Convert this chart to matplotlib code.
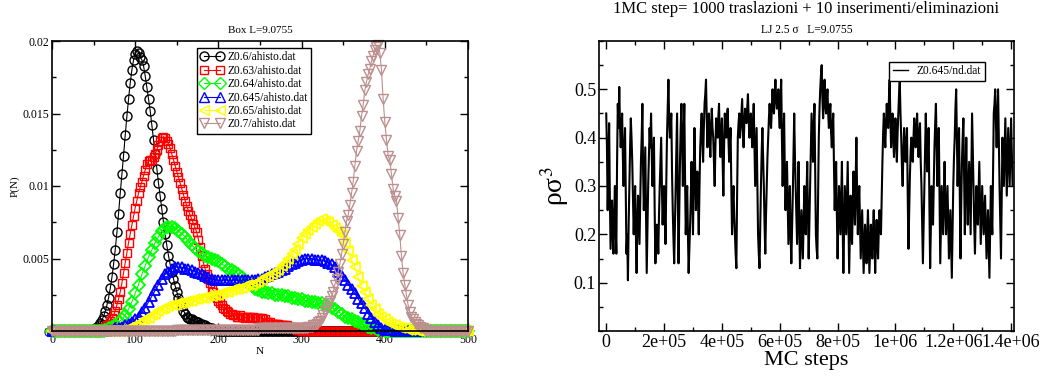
import numpy as np
import matplotlib
matplotlib.use('Agg')
import matplotlib.pyplot as plt
from matplotlib.ticker import MultipleLocator

plt.rcParams['font.family'] = ['Liberation Serif', 'DejaVu Serif']
plt.rcParams['mathtext.fontset'] = 'stix'

# ---------------- left panel: P(N) histograms ----------------
# each curve: first N, spacing in N, values; P = 0 elsewhere on the 0..500 grid
N_GRID = np.arange(0, 501, 2)

black_start, black_step = 50, 2
p_black = [0.00013, 0.0002, 0.00028, 0.0004, 0.00055, 0.00075, 0.00102, 0.00136, 0.00179, 0.0023,
           0.00294, 0.00369, 0.0046, 0.0056, 0.0068, 0.0081, 0.0095, 0.0108, 0.0121, 0.0135,
           0.0148, 0.0160, 0.0171, 0.0180, 0.0187, 0.0191, 0.0193, 0.0192, 0.0189, 0.0187,
           0.0183, 0.0176, 0.0168, 0.0160, 0.0152, 0.0142, 0.0132, 0.0122, 0.0112, 0.0102,
           0.0093, 0.0084, 0.0075, 0.0067, 0.0059, 0.0052, 0.0046, 0.0041, 0.0036, 0.0031,
           0.0027, 0.0023, 0.0020, 0.0017, 0.0014, 0.0012, 0.0010, 0.0009, 0.0008, 0.0008,
           0.0007, 0.0007, 0.0006, 0.0006, 0.0005, 0.0005, 0.0004, 0.0004, 0.0003, 0.0003,
           0.0002, 0.0002, 0.0001, 0.0001, 0.0001, 0.0]

red_start, red_step = 60, 2
p_red = [0.0001, 0.0002, 0.0003, 0.0004, 0.0005, 0.0007, 0.0009, 0.0011, 0.0014, 0.0018,
         0.0022, 0.0027, 0.0033, 0.0040, 0.0047, 0.0054, 0.0061, 0.0067, 0.0073, 0.0079,
         0.0085, 0.0090, 0.0095, 0.0099, 0.0103, 0.0107, 0.0111, 0.0115, 0.0117, 0.0118,
         0.0118, 0.0120, 0.0122, 0.0125, 0.0128, 0.0131, 0.0133, 0.0134, 0.0133, 0.0131,
         0.0129, 0.0126, 0.0122, 0.0118, 0.0114, 0.0110, 0.0106, 0.0102, 0.0098, 0.0094,
         0.0090, 0.0086, 0.0083, 0.0080, 0.0077, 0.0074, 0.0071, 0.0068, 0.0063, 0.0058,
         0.0052, 0.0047, 0.0043, 0.0039, 0.0036, 0.0033, 0.0030, 0.0027, 0.0025, 0.0023,
         0.0021, 0.0019, 0.0018, 0.0016, 0.0015, 0.0014, 0.0013, 0.0012, 0.0012, 0.0011,
         0.0011, 0.0010, 0.0010, 0.0011, 0.0010, 0.0010, 0.0009, 0.0010, 0.0010, 0.0010,
         0.0009, 0.0010, 0.0009, 0.0009, 0.0009, 0.0009, 0.0009, 0.0008, 0.0008, 0.0006,
         0.0006, 0.0006, 0.0005, 0.0005, 0.0005, 0.0005, 0.0005, 0.0004, 0.0004, 0.0004,
         0.0004, 0.0004, 0.0003, 0.0003, 0.0003, 0.0002, 0.0002, 0.0001, 0.0001, 0.0001, 0.0]

green_start, green_step = 64, 4
p_green = [0.0001, 0.0002, 0.0003, 0.0004, 0.0006, 0.0008, 0.0011, 0.0015, 0.0020, 0.0026,
           0.0032, 0.0039, 0.0045, 0.0051, 0.0056, 0.0061, 0.0065, 0.0069, 0.0071, 0.0072,
           0.0072, 0.0071, 0.0069, 0.0067, 0.0065, 0.0062, 0.0059, 0.0057, 0.0055, 0.0054,
           0.0052, 0.0051, 0.0050, 0.0049, 0.0048, 0.0046, 0.0045, 0.0043, 0.0042, 0.0041,
           0.0039, 0.0037, 0.0035, 0.0033, 0.0031, 0.0029, 0.0028, 0.0027, 0.0027, 0.0026,
           0.0026, 0.0025, 0.0025, 0.0025, 0.0024, 0.0024, 0.0023, 0.0023, 0.0022, 0.0022,
           0.0021, 0.0021, 0.0020, 0.0020, 0.0019, 0.0019, 0.0018, 0.0017, 0.0016, 0.0015,
           0.0013, 0.0012, 0.0010, 0.0009, 0.0008, 0.0007, 0.0006, 0.0005, 0.0004, 0.0003,
           0.0002, 0.0002, 0.0001, 0.0001, 0.0]

blue_start, blue_step = 68, 4
p_blue = [0.0001, 0.0001, 0.0002, 0.0002, 0.0003, 0.0004, 0.0005, 0.0006, 0.0008, 0.0010,
          0.0013, 0.0016, 0.0020, 0.0024, 0.0028, 0.0032, 0.0036, 0.0039, 0.0041, 0.0043,
          0.0044, 0.0044, 0.0044, 0.0043, 0.0043, 0.0042, 0.0041, 0.0040, 0.0039, 0.0038,
          0.0037, 0.0036, 0.0035, 0.0035, 0.0035, 0.0035, 0.0035, 0.0035, 0.0035, 0.0035,
          0.0035, 0.0035, 0.0035, 0.0035, 0.0035, 0.0036, 0.0036, 0.0037, 0.0038, 0.0039,
          0.0040, 0.0041, 0.0042, 0.0043, 0.0045, 0.0046, 0.0047, 0.0048, 0.0049, 0.0050,
          0.0050, 0.0050, 0.0049, 0.0049, 0.0049, 0.0048, 0.0047, 0.0046, 0.0044, 0.0041,
          0.0038, 0.0035, 0.0032, 0.0029, 0.0026, 0.0022, 0.0019, 0.0016, 0.0012, 0.0009,
          0.0006, 0.0004, 0.0002, 0.0001, 0.0001, 0.0001, 0.0]

yellow_start, yellow_step = 84, 4
p_yellow = [0.0001, 0.0001, 0.0002, 0.0003, 0.0004, 0.0005, 0.0006, 0.0008, 0.0009, 0.0011,
            0.0012, 0.0014, 0.0015, 0.0016, 0.0017, 0.0018, 0.0018, 0.0019, 0.0019, 0.0020,
            0.0021, 0.0021, 0.0022, 0.0022, 0.0023, 0.0023, 0.0024, 0.0024, 0.0025, 0.0025,
            0.0026, 0.0027, 0.0027, 0.0028, 0.0029, 0.0029, 0.0030, 0.0031, 0.0032, 0.0032,
            0.0033, 0.0034, 0.0035, 0.0037, 0.0038, 0.0039, 0.0041, 0.0042, 0.0045, 0.0047,
            0.0050, 0.0053, 0.0056, 0.0060, 0.0064, 0.0067, 0.0070, 0.0072, 0.0074, 0.0076,
            0.0077, 0.0076, 0.0075, 0.0073, 0.0071, 0.0069, 0.0066, 0.0061, 0.0055, 0.0049,
            0.0044, 0.0037, 0.0031, 0.0027, 0.0022, 0.0018, 0.0015, 0.0012, 0.0010, 0.0008,
            0.0006, 0.0005, 0.0004, 0.0003, 0.0002, 0.0002, 0.0001, 0.0001, 0.0001, 0.0]

brown_start, brown_step = 150, 2
p_brown = [0.0001, 0.0001, 0.0001, 0.0001, 0.0001, 0.0001, 0.0001, 0.0001, 0.0001, 0.0001,
           0.0001, 0.0001, 0.0001, 0.0001, 0.0001, 0.0001, 0.0001, 0.0001, 0.0001, 0.0001,
           0.0001, 0.0001, 0.0001, 0.0001, 0.0001, 0.0001, 0.0001, 0.0001, 0.0001, 0.0001,
           0.0001, 0.0001, 0.0001, 0.0001, 0.0001, 0.0001, 0.0001, 0.0001, 0.0001, 0.0001,
           0.0001, 0.0001, 0.0001, 0.0001, 0.0001, 0.0001, 0.0001, 0.0001, 0.0001, 0.0001,
           0.0002, 0.0002, 0.0002, 0.0002, 0.0002, 0.0002, 0.0002, 0.0002, 0.0002, 0.0002,
           0.0002, 0.0002, 0.0002, 0.0002, 0.0002, 0.0002, 0.0002, 0.0002, 0.0002, 0.0002,
           0.0002, 0.0002, 0.0002, 0.0002, 0.0002,
           0.0002, 0.0002, 0.0002, 0.0002, 0.0003, 0.0003, 0.0003, 0.0004, 0.0004, 0.0005,
           0.0006, 0.0007, 0.0009, 0.0011, 0.0014, 0.0016, 0.0019, 0.0021, 0.0024, 0.0027,
           0.0032, 0.0036, 0.0041, 0.0046, 0.0053, 0.0060, 0.0068, 0.0076, 0.0080, 0.0087,
           0.0095, 0.0103, 0.0114, 0.0124, 0.0131, 0.0138, 0.0148, 0.0156, 0.0166, 0.0172,
           0.0177, 0.0181, 0.0186, 0.0190, 0.0194, 0.0196, 0.0197, 0.0192, 0.0180, 0.0160,
           0.0144, 0.0132, 0.0121, 0.0118, 0.0108, 0.0098, 0.0093, 0.0090, 0.0078, 0.0066,
           0.0052, 0.0040, 0.0032, 0.0025, 0.0018, 0.0013, 0.0010, 0.0008, 0.0006, 0.0005,
           0.0004, 0.0003, 0.0002, 0.0002, 0.0001, 0.0001]

hist_labels = ['Z0.6/ahisto.dat', 'Z0.63/ahisto.dat', 'Z0.64/ahisto.dat',
               'Z0.645/ahisto.dat', 'Z0.65/ahisto.dat', 'Z0.7/ahisto.dat']

# ---------------- right panel: density vs MC steps ----------------
mc_step_spacing = 2500
rho = [0.45, 0.38, 0.25, 0.33, 0.43, 0.28, 0.17, 0.22, 0.27, 0.20,
       0.16, 0.24, 0.30, 0.21, 0.16, 0.35, 0.47, 0.42, 0.505, 0.43,
       0.38, 0.41, 0.45, 0.36, 0.30, 0.37, 0.42, 0.28, 0.16, 0.20,
       0.105, 0.22, 0.30, 0.38, 0.44, 0.40, 0.35, 0.28, 0.20, 0.26,
       0.30, 0.20, 0.12, 0.22, 0.28, 0.23, 0.18, 0.27, 0.35, 0.40,
       0.47, 0.33, 0.25, 0.32, 0.38, 0.24, 0.12, 0.21, 0.30, 0.36,
       0.42, 0.38, 0.45, 0.36, 0.30, 0.35, 0.40, 0.25, 0.14, 0.19,
       0.22, 0.20, 0.16, 0.24, 0.30, 0.35, 0.40, 0.30, 0.22, 0.27,
       0.30, 0.25, 0.18, 0.30, 0.40, 0.46, 0.52, 0.44, 0.40, 0.42,
       0.45, 0.33, 0.25, 0.19, 0.14, 0.22, 0.30, 0.38, 0.45, 0.28,
       0.14, 0.25, 0.35, 0.42, 0.47, 0.38, 0.30, 0.40, 0.47, 0.32,
       0.20, 0.26, 0.30, 0.20, 0.12, 0.17, 0.22, 0.28, 0.35, 0.27,
       0.20, 0.32, 0.42, 0.33, 0.25, 0.30, 0.33, 0.26, 0.20, 0.30,
       0.38, 0.42, 0.45, 0.39, 0.35, 0.42, 0.47, 0.49, 0.52, 0.44,
       0.38, 0.42, 0.45, 0.40, 0.36, 0.42, 0.46, 0.42, 0.40, 0.35,
       0.30, 0.38, 0.44, 0.41, 0.40, 0.44, 0.47, 0.40, 0.36, 0.41,
       0.44, 0.35, 0.28, 0.38, 0.45, 0.42, 0.40, 0.44, 0.46, 0.40,
       0.35, 0.39, 0.42, 0.30, 0.20, 0.26, 0.30, 0.24, 0.20, 0.16,
       0.13, 0.28, 0.40, 0.43, 0.45, 0.40, 0.42, 0.45, 0.48, 0.42,
       0.38, 0.43, 0.46, 0.44, 0.43, 0.46, 0.49, 0.44, 0.40, 0.43,
       0.45, 0.41, 0.38, 0.43, 0.47, 0.38, 0.30, 0.36, 0.42, 0.31,
       0.20, 0.16, 0.13, 0.22, 0.30, 0.37, 0.42, 0.36, 0.30, 0.22,
       0.16, 0.24, 0.30, 0.36, 0.40, 0.44, 0.47, 0.44, 0.42, 0.46,
       0.50, 0.47, 0.45, 0.49, 0.52, 0.48, 0.46, 0.47, 0.50, 0.45,
       0.42, 0.48, 0.52, 0.40, 0.30, 0.38, 0.45, 0.33, 0.25, 0.31,
       0.35, 0.26, 0.18, 0.24, 0.30, 0.20, 0.14, 0.21, 0.28, 0.37,
       0.45, 0.36, 0.30, 0.24, 0.18, 0.27, 0.35, 0.22, 0.13, 0.19,
       0.25, 0.20, 0.15, 0.23, 0.30, 0.24, 0.20, 0.28, 0.35, 0.24,
       0.15, 0.22, 0.30, 0.38, 0.45, 0.40, 0.35, 0.42, 0.47, 0.33,
       0.20, 0.17, 0.15, 0.28, 0.40, 0.46, 0.50, 0.53, 0.55, 0.48,
       0.44, 0.48, 0.52, 0.47, 0.45, 0.48, 0.50, 0.45, 0.42, 0.45,
       0.47, 0.41, 0.38, 0.42, 0.45, 0.34, 0.25, 0.31, 0.35, 0.24,
       0.15, 0.23, 0.30, 0.25, 0.20, 0.28, 0.35, 0.22, 0.12, 0.21,
       0.30, 0.25, 0.20, 0.27, 0.35, 0.23, 0.12, 0.20, 0.28, 0.22,
       0.18, 0.26, 0.33, 0.27, 0.22, 0.31, 0.40, 0.28, 0.20, 0.26,
       0.30, 0.22, 0.15, 0.20, 0.25, 0.18, 0.12, 0.17, 0.22, 0.18,
       0.14, 0.20, 0.25, 0.18, 0.12, 0.17, 0.22, 0.18, 0.15, 0.21,
       0.25, 0.18, 0.12, 0.18, 0.23, 0.19, 0.15, 0.21, 0.25, 0.22,
       0.20, 0.28, 0.35, 0.41, 0.45, 0.41, 0.38, 0.43, 0.47, 0.44,
       0.42, 0.48, 0.52, 0.44, 0.38, 0.42, 0.45, 0.40, 0.36, 0.40,
       0.44, 0.39, 0.35, 0.41, 0.45, 0.49, 0.52, 0.45, 0.40, 0.34,
       0.30, 0.37, 0.42, 0.38, 0.35, 0.39, 0.42, 0.28, 0.17, 0.25,
       0.32, 0.37, 0.40, 0.37, 0.35, 0.40, 0.44, 0.40, 0.38, 0.42,
       0.45, 0.40, 0.36, 0.40, 0.43, 0.35, 0.30, 0.22, 0.14, 0.22,
       0.30, 0.38, 0.45, 0.38, 0.33, 0.38, 0.42, 0.26, 0.13, 0.22,
       0.30, 0.25, 0.22, 0.30, 0.38, 0.43, 0.47, 0.38, 0.30, 0.37,
       0.42, 0.28, 0.14, 0.22, 0.30, 0.25, 0.20, 0.28, 0.35, 0.26,
       0.20, 0.25, 0.30, 0.22, 0.15, 0.20, 0.25, 0.18, 0.11, 0.21,
       0.30, 0.36, 0.40, 0.46, 0.50, 0.40, 0.30, 0.37, 0.42, 0.28,
       0.15, 0.26, 0.35, 0.40, 0.44, 0.32, 0.20, 0.31, 0.40, 0.30,
       0.22, 0.29, 0.35, 0.27, 0.20, 0.33, 0.45, 0.37, 0.30, 0.22,
       0.16, 0.24, 0.30, 0.25, 0.22, 0.29, 0.35, 0.26, 0.18, 0.24,
       0.30, 0.25, 0.20, 0.24, 0.28, 0.21, 0.15, 0.20, 0.25, 0.18,
       0.11, 0.21, 0.30, 0.24, 0.20, 0.33, 0.45, 0.47, 0.50, 0.43,
       0.38, 0.44, 0.50, 0.40, 0.30, 0.22, 0.15, 0.28, 0.40, 0.35,
       0.30, 0.37, 0.44, 0.36, 0.28, 0.35, 0.42, 0.36, 0.30, 0.37,
       0.44, 0.37, 0.30]

mc_ticks = [0, 2e5, 4e5, 6e5, 8e5, 1e6, 1.2e6, 1.4e6]
mc_tick_labels = ['0', '2e+05', '4e+05', '6e+05', '8e+05', '1e+06', '1.2e+06', '1.4e+06']
rho_ticks = [0.1, 0.2, 0.3, 0.4, 0.5]
p_ticks = [0, 0.005, 0.01, 0.015, 0.02]
p_tick_labels = ['0', '0.005', '0.01', '0.015', '0.02']


def with_tails(start, step, vals):
    n = start + step * np.arange(len(vals))
    left = N_GRID[N_GRID < n[0]]
    right = N_GRID[N_GRID > n[-1]]
    x = np.concatenate([left, n, right])
    y = np.concatenate([np.zeros(len(left)), vals, np.zeros(len(right))])
    return x, y


def style_axes(ax, size):
    for sp in ax.spines.values():
        sp.set_linewidth(1.2)
    ax.tick_params(which='both', direction='in', top=True, right=True, width=1.0,
                   labelsize=size, pad=2)
    ax.tick_params(which='major', length=6)
    ax.tick_params(which='minor', length=3)


fig = plt.figure(figsize=(10.44, 3.76), dpi=100)

# left
ax1 = fig.add_axes([52 / 1044, 45 / 376, 416 / 1044, 290 / 376])
curves = [
    (black_start, black_step, p_black, 'black', 'o', 6.5, 1.0),
    (red_start, red_step, p_red, 'red', 's', 5.5, 1.0),
    (green_start, green_step, p_green, '#00ff00', 'D', 6, 1.3),
    (blue_start, blue_step, p_blue, 'blue', '^', 7.5, 1.3),
    (yellow_start, yellow_step, p_yellow, '#ffff00', '<', 7.5, 1.3),
    (brown_start, brown_step, p_brown, '#bc8f8f', 'v', 7, 1.0),
]
for (start, step, vals, col, mk, ms, mew), lab in zip(curves, hist_labels):
    x, y = with_tails(start, step, vals)
    ax1.plot(x, y, color=col, lw=0.8, marker=mk, ms=ms, mfc='none', mec=col, mew=mew,
             clip_on=False, label=lab)
ax1.set_xlim(0, 500)
ax1.set_ylim(0, 0.02)
ax1.xaxis.set_major_locator(MultipleLocator(100))
ax1.xaxis.set_minor_locator(MultipleLocator(50))
ax1.set_yticks(p_ticks, p_tick_labels)
ax1.yaxis.set_minor_locator(MultipleLocator(0.0025))
style_axes(ax1, 8.5)
ax1.set_xlabel('N', fontsize=8, labelpad=1)
ax1.set_ylabel('P(N)', fontsize=8, labelpad=2)
ax1.set_title('Box L=9.0755', fontsize=8, pad=6)
leg1 = ax1.legend(loc='upper left', bbox_to_anchor=(0.349, 0.976), borderaxespad=0,
                  numpoints=2, fontsize=8.3, fancybox=False, framealpha=1, edgecolor='black',
                  handlelength=2.0, handletextpad=0.3, labelspacing=0.12, borderpad=0.3)
leg1.get_frame().set_linewidth(1.0)
for h in leg1.get_lines():
    h.set_markeredgewidth(1.0)

# right
ax2 = fig.add_axes([599 / 1044, 45 / 376, 415 / 1044, 290 / 376])
steps = mc_step_spacing * np.arange(len(rho))
ax2.plot(steps, rho, color='black', lw=1.5, label='Z0.645/nd.dat')
ax2.set_xlim(-2.5e4, 1.41e6)
ax2.set_ylim(0, 0.6)
ax2.set_xticks(mc_ticks, mc_tick_labels)
ax2.xaxis.set_minor_locator(MultipleLocator(1e5))
ax2.set_yticks(rho_ticks, [f'{v:g}' for v in rho_ticks])
ax2.yaxis.set_minor_locator(MultipleLocator(0.05))
style_axes(ax2, 13)
ax2.set_xlabel('MC steps', fontsize=16, labelpad=0)
ax2.set_ylabel('ρσ$^3$', fontsize=20, labelpad=2)
ax2.set_title('LJ 2.5 σ   L=9.0755', fontsize=8.3, pad=6)
fig.text(806 / 1044, 1 - 9 / 376, '1MC step= 1000 traslazioni + 10 inserimenti/eliminazioni',
         ha='center', va='center', fontsize=12)
leg2 = ax2.legend(loc='upper left', bbox_to_anchor=(0.699, 0.928), borderaxespad=0,
                  fontsize=8.3, fancybox=False, framealpha=1, edgecolor='black',
                  handlelength=1.3, handletextpad=0.8, borderpad=0.3)
leg2.get_frame().set_linewidth(1.0)
leg2.get_lines()[0].set_linewidth(1.0)

fig.savefig('out.png', dpi=100)
